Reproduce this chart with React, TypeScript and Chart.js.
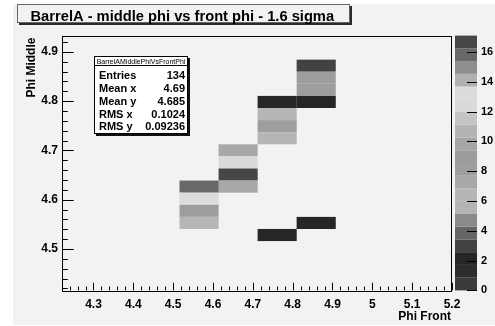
import React, { useEffect, useRef } from "react";
import { Chart, registerables } from "chart.js";

Chart.register(...registerables);

const TITLE = "BarrelA - middle phi vs front phi - 1.6 sigma";
const X_TITLE = "Phi Front";
const Y_TITLE = "Phi Middle";
const STATS_NAME = "BarrelAMiddlePhiVsFrontPhi";
const STATS_LABELS = ["Entries", "Mean x", "Mean y", "RMS x", "RMS y"];
const STATS_VALUES = ["134", "4.69", "4.685", "0.1024", "0.09236"];

const X_MIN = 4.221;
const X_MAX = 5.2;
const Y_MIN = 4.416;
const Y_MAX = 4.933;
const Z_MIN = 0;
const Z_MAX = 17.1;

const X_TICKS = [4.3, 4.4, 4.5, 4.6, 4.7, 4.8, 4.9, 5, 5.1, 5.2];
const Y_TICKS = [4.5, 4.6, 4.7, 4.8, 4.9];
const Z_TICKS = [0, 2, 4, 6, 8, 10, 12, 14, 16];
const X_MINOR_STEP = 0.02;
const Y_MINOR_STEP = 0.02;

// histogram bins (low edges) and contents
const X_BIN_WIDTH = 0.0982;
const Y_BIN_WIDTH = 0.02454;
const CELL_X = [
  4.81, 4.81, 4.81, 4.81, 4.81,
  4.712, 4.712, 4.712, 4.712, 4.712,
  4.614, 4.614, 4.614, 4.614,
  4.516, 4.516, 4.516, 4.516,
];
const CELL_Y = [
  4.8597, 4.8352, 4.8107, 4.7861, 4.5406,
  4.7861, 4.7616, 4.737, 4.7124, 4.5161,
  4.6879, 4.6634, 4.6388, 4.6143,
  4.6143, 4.5897, 4.5652, 4.5406,
];
const CELL_Z = [
  3, 8, 8, 2, 2,
  2, 6, 8, 6, 2,
  7, 12, 17, 7,
  16, 13, 8, 6,
];

// grey-scale palette, 20 contour levels from Z_MIN to Z_MAX
const PALETTE = [
  "#3a3a3a", "#2c2c2c", "#262626", "#424242", "#666666",
  "#8a8a8a", "#b4b4b4", "#b6b6b6", "#a8a8a8", "#9e9e9e",
  "#9c9c9c", "#a6a6a6", "#b4b4b4", "#c4c4c4", "#dadada",
  "#dcdcdc", "#b0b0b0", "#8e8e8e", "#686868", "#464646",
];

const BG = "#f2f2f2";
const FONT = "'Liberation Sans', Arial, Helvetica, sans-serif";

function colorFor(z: number) {
  const n = PALETTE.length;
  let k = Math.floor(((z - Z_MIN) / (Z_MAX - Z_MIN)) * n);
  if (k < 0) k = 0;
  if (k > n - 1) k = n - 1;
  return PALETTE[k];
}

const rootPlugin = {
  id: "rootLook",
  beforeDraw(chart: any) {
    const ctx = chart.ctx;
    ctx.save();
    ctx.fillStyle = "#ffffff";
    ctx.fillRect(0, 0, chart.width, chart.height);
    ctx.fillStyle = BG;
    ctx.fillRect(13, 4, chart.width - 13, 321);
    ctx.restore();
  },
  afterDraw(chart: any) {
    const ctx = chart.ctx;
    const xs = chart.scales.x;
    const ys = chart.scales.y;
    const zs = chart.scales.z;
    const area = chart.chartArea;
    ctx.save();

    // cells
    for (let i = 0; i < CELL_Z.length; i++) {
      const x0 = xs.getPixelForValue(CELL_X[i]);
      const x1 = xs.getPixelForValue(CELL_X[i] + X_BIN_WIDTH);
      const y0 = ys.getPixelForValue(CELL_Y[i]);
      const y1 = ys.getPixelForValue(CELL_Y[i] + Y_BIN_WIDTH);
      ctx.fillStyle = colorFor(CELL_Z[i]);
      ctx.fillRect(x0, y1, x1 - x0, y0 - y1);
    }

    // frame
    ctx.strokeStyle = "#000";
    ctx.lineWidth = 1;
    ctx.strokeRect(Math.round(area.left) + 0.5, Math.round(area.top) + 0.5,
      Math.round(area.right - area.left) - 1, Math.round(area.bottom - area.top));

    // ticks inside frame
    const h = area.bottom - area.top;
    const w = area.right - area.left;
    const xMajorLen = h * 0.03;
    const yMajorLen = w * 0.03;
    ctx.beginPath();
    const xStart = Math.ceil(X_MIN / X_MINOR_STEP - 1e-6);
    const xEnd = Math.floor(X_MAX / X_MINOR_STEP + 1e-6);
    for (let k = xStart; k <= xEnd; k++) {
      const v = k * X_MINOR_STEP;
      const isMajor = X_TICKS.some((t) => Math.abs(t - v) < 1e-6);
      const px = Math.round(xs.getPixelForValue(v)) + 0.5;
      const len = isMajor ? xMajorLen : xMajorLen / 2;
      ctx.moveTo(px, area.bottom);
      ctx.lineTo(px, area.bottom - len);
    }
    const yStart = Math.ceil(Y_MIN / Y_MINOR_STEP - 1e-6);
    const yEnd = Math.floor(Y_MAX / Y_MINOR_STEP + 1e-6);
    for (let k = yStart; k <= yEnd; k++) {
      const v = k * Y_MINOR_STEP;
      const isMajor = Y_TICKS.some((t) => Math.abs(t - v) < 1e-6);
      const py = Math.round(ys.getPixelForValue(v)) + 0.5;
      const len = isMajor ? yMajorLen : yMajorLen / 2;
      ctx.moveTo(area.left, py);
      ctx.lineTo(area.left + len, py);
    }
    ctx.stroke();

    // palette
    const palL = zs.left + 3;
    const palR = zs.left + 25;
    const n = PALETTE.length;
    for (let k = 0; k < n; k++) {
      const z0 = Z_MIN + ((Z_MAX - Z_MIN) * k) / n;
      const z1 = Z_MIN + ((Z_MAX - Z_MIN) * (k + 1)) / n;
      const p0 = zs.getPixelForValue(z0);
      const p1 = zs.getPixelForValue(z1);
      ctx.fillStyle = PALETTE[k];
      ctx.fillRect(palL, p1, palR - palL, p0 - p1);
    }
    ctx.strokeStyle = "#000";
    ctx.beginPath();
    for (const t of Z_TICKS) {
      const py = Math.round(zs.getPixelForValue(t)) + 0.5;
      ctx.moveTo(palR, py);
      ctx.lineTo(palR - 10, py);
    }
    ctx.stroke();

    // axis titles
    ctx.fillStyle = "#000";
    ctx.font = `bold 12px ${FONT}`;
    ctx.textAlign = "right";
    ctx.textBaseline = "alphabetic";
    ctx.fillText(X_TITLE, area.right - 1, 320);
    ctx.save();
    ctx.translate(35, area.top + 2);
    ctx.rotate(-Math.PI / 2);
    ctx.fillText(Y_TITLE, 0, 0);
    ctx.restore();

    // title box
    const tL = 17, tT = 4, tR = 350, tB = 23;
    ctx.fillStyle = "#2a2a2a";
    ctx.fillRect(tL + 2, tB, tR - tL, 2);
    ctx.fillRect(tR, tT + 2, 2, tB - tT);
    ctx.fillStyle = BG;
    ctx.fillRect(tL, tT, tR - tL, tB - tT);
    ctx.strokeStyle = "#666";
    ctx.strokeRect(tL + 0.5, tT + 0.5, tR - tL - 1, tB - tT - 1);
    ctx.fillStyle = "#000";
    ctx.font = `bold 14.7px ${FONT}`;
    ctx.textAlign = "left";
    ctx.fillText(TITLE, 30.5, 20.5);

    // stats box
    const sL = 94, sT = 56, sR = 188, sB = 134;
    ctx.fillStyle = "#111";
    ctx.fillRect(sL + 2, sB, sR - sL, 2);
    ctx.fillRect(sR, sT + 2, 2, sB - sT);
    ctx.fillStyle = "#ffffff";
    ctx.fillRect(sL, sT, sR - sL, sB - sT);
    ctx.strokeStyle = "#000";
    ctx.strokeRect(sL + 0.5, sT + 0.5, sR - sL - 1, sB - sT - 1);
    ctx.beginPath();
    ctx.moveTo(sL, 65.5);
    ctx.lineTo(sR, 65.5);
    ctx.stroke();
    ctx.fillStyle = "#000";
    ctx.font = `7px ${FONT}`;
    ctx.textAlign = "center";
    ctx.fillText(STATS_NAME, (sL + sR) / 2, 63.5);
    ctx.font = `bold 11px ${FONT}`;
    for (let i = 0; i < STATS_LABELS.length; i++) {
      const by = 79.3 + i * 12.75;
      ctx.textAlign = "left";
      ctx.fillText(STATS_LABELS[i], 99, by);
      ctx.textAlign = "right";
      ctx.fillText(STATS_VALUES[i], 185, by);
    }

    ctx.restore();
  },
};

export default function App() {
  const ref = useRef<HTMLCanvasElement | null>(null);
  useEffect(() => {
    if (!ref.current) return;
    const points = CELL_Z.map((z, i) => ({
      x: CELL_X[i] + X_BIN_WIDTH / 2,
      y: CELL_Y[i] + Y_BIN_WIDTH / 2,
      z,
    }));
    const tickFont = { family: FONT, size: 12, weight: "bold" as const };
    const chart = new Chart(ref.current, {
      type: "scatter",
      data: {
        datasets: [
          {
            data: points as any,
            pointRadius: 0,
            pointHoverRadius: 0,
            showLine: false,
          },
        ],
      },
      plugins: [rootPlugin],
      options: {
        responsive: false,
        animation: false,
        devicePixelRatio: 1,
        events: [],
        layout: { padding: { top: 35, left: 0, right: 0, bottom: 0 } },
        plugins: {
          legend: { display: false },
          title: { display: false },
          tooltip: { enabled: false },
        },
        scales: {
          x: {
            type: "linear",
            position: "bottom",
            min: X_MIN,
            max: X_MAX,
            grid: { display: false, drawTicks: false },
            border: { display: false },
            afterBuildTicks: (s: any) => {
              s.ticks = X_TICKS.map((v) => ({ value: v }));
            },
            afterFit: (s: any) => {
              s.height = 31;
            },
            ticks: {
              color: "#000",
              font: tickFont,
              padding: 7,
              maxRotation: 0,
              autoSkip: false,
              callback: (v: any) => String(Math.round(Number(v) * 10) / 10),
            },
          },
          y: {
            type: "linear",
            position: "left",
            min: Y_MIN,
            max: Y_MAX,
            grid: { display: false, drawTicks: false },
            border: { display: false },
            afterBuildTicks: (s: any) => {
              s.ticks = Y_TICKS.map((v) => ({ value: v }));
            },
            afterFit: (s: any) => {
              s.width = 62;
            },
            ticks: {
              color: "#000",
              font: tickFont,
              padding: 4,
              autoSkip: false,
              callback: (v: any) => String(Math.round(Number(v) * 10) / 10),
            },
          },
          z: {
            type: "linear",
            position: "right",
            min: Z_MIN,
            max: Z_MAX,
            grid: { display: false, drawTicks: false },
            border: { display: false },
            afterBuildTicks: (s: any) => {
              s.ticks = Z_TICKS.map((v) => ({ value: v }));
            },
            afterFit: (s: any) => {
              s.width = 43;
            },
            ticks: {
              color: "#000",
              font: { family: FONT, size: 11, weight: "bold" as const },
              padding: 29,
              autoSkip: false,
            },
          },
        },
      },
    });
    return () => chart.destroy();
  }, []);
  return (
    <div style={{ position: "fixed", left: 0, top: 0, width: 495, height: 326 }}>
      <canvas ref={ref} width={495} height={326} style={{ display: "block" }} />
    </div>
  );
}
